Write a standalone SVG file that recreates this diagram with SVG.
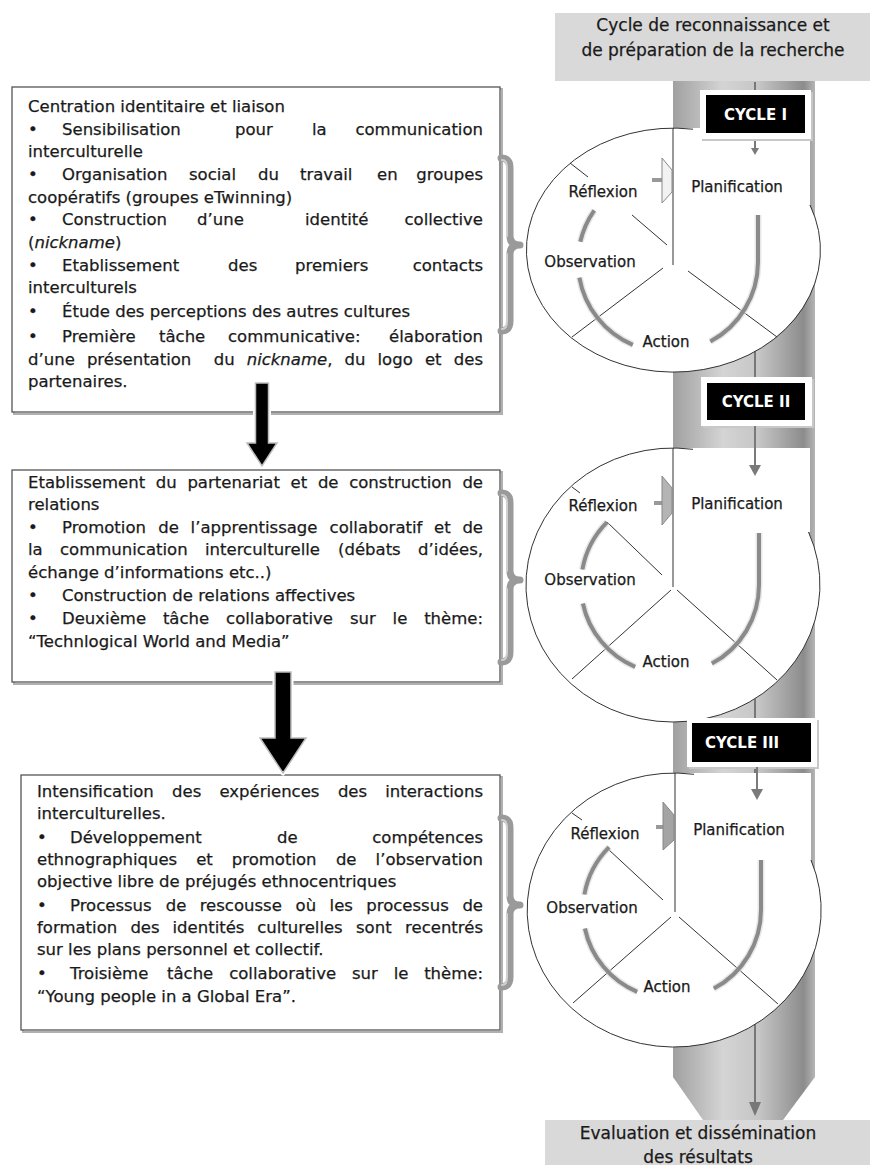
<svg xmlns="http://www.w3.org/2000/svg" width="870" height="1165" viewBox="0 0 870 1165">
<defs>
<linearGradient id="colg" x1="0" y1="0" x2="1" y2="0">
<stop offset="0" stop-color="#a0a0a0"/><stop offset="0.35" stop-color="#d4d4d4"/><stop offset="0.6" stop-color="#c6c6c6"/><stop offset="0.92" stop-color="#8c8c8c"/><stop offset="1" stop-color="#b5b5b5"/>
</linearGradient>
<style>
.t{font-family:"DejaVu Sans",sans-serif;font-size:16.5px;fill:#1a1a1a;stroke:#1a1a1a;stroke-width:0.25px}
.e{text-anchor:end}
.it{font-style:italic}
.lb{font-family:"DejaVu Sans",sans-serif;font-size:15px;fill:#1a1a1a;stroke:#1a1a1a;stroke-width:0.25px;text-anchor:middle}
.ttl{font-family:"DejaVu Sans",sans-serif;font-size:17px;fill:#1a1a1a;stroke:#1a1a1a;stroke-width:0.25px;text-anchor:middle}
.cy{font-family:"DejaVu Sans",sans-serif;font-size:15px;font-weight:bold;fill:#fff}
.box{fill:#fff;stroke:#555;stroke-width:1.3}
.shd{fill:none;stroke:#b0b0b0;stroke-width:2}
.ell{fill:none;stroke:#333;stroke-width:1}
.ln{stroke:#333;stroke-width:1;fill:none}
.arc{fill:none;stroke:#8a8a8a;stroke-width:4}
.arcs{fill:none;stroke:#d8d8d8;stroke-width:7}
.brace{fill:none;stroke:#9a9a9a;stroke-width:7;stroke-linecap:round;stroke-linejoin:round}
.bracei{fill:none;stroke:#d0d0d0;stroke-width:2;stroke-linecap:round;stroke-linejoin:round}
.garr{stroke:#7a7a7a;stroke-width:2;fill:none}
</style>
</defs>

<!-- column -->
<g id="column">
<polygon points="673,80 815,80 815,1077 783,1120 703,1120 673,1077" fill="url(#colg)"/>
<line x1="755" y1="82" x2="755" y2="1106" stroke="#777" stroke-width="2"/>
<polygon points="749,1102 761,1102 755,1116" fill="#777"/>
</g>

<g id="top-box">
<rect x="555" y="13" width="315" height="68" fill="#d9d9d9"/>
<text class="ttl" x="713" y="31">Cycle de reconnaissance et</text>
<text class="ttl" x="713" y="56">de préparation de la recherche</text>
</g>

<g id="bottom-box">
<rect x="545" y="1120" width="325" height="45" fill="#d9d9d9"/>
<text class="ttl" x="698" y="1139">Evaluation et dissémination</text>
<text class="ttl" x="698" y="1163">des résultats</text>
</g>

<!-- Cycle I -->
<g id="cycle1">
<rect x="673" y="128" width="137" height="77" fill="#fff"/>
<ellipse cx="673" cy="250" rx="147" ry="122" fill="#fff"/>
<path class="ell" d="M693 129.2 A147 122 0 1 0 810 205"/>
<line class="ln" x1="673" y1="128" x2="673" y2="265"/>
<line class="ln" x1="570" y1="163" x2="588" y2="177"/>
<line class="ln" x1="632" y1="215" x2="667" y2="245"/>
<line class="ln" x1="663" y1="268" x2="572" y2="337"/>
<line class="ln" x1="688" y1="271" x2="777" y2="337"/>
<path class="arcs" d="M758 215 L758 262 A90 90 0 0 1 710.3 341.5 M632.8 344.8 A90 90 0 0 1 579.4 277.6 M580.3 241.8 A90 90 0 0 1 594.3 210.4" opacity="0.6"/>
<path class="arc" d="M758 215 L758 262 A90 90 0 0 1 710.3 341.5 M632.8 344.8 A90 90 0 0 1 579.4 277.6 M580.3 241.8 A90 90 0 0 1 594.3 210.4"/>
<line x1="652" y1="180" x2="662" y2="180" stroke="#999" stroke-width="4"/>
<polygon points="662,158 672,170 672,192 662,203" fill="#f2f2f2" stroke="#888" stroke-width="1"/>
<text class="lb" x="603" y="197">Réflexion</text>
<text class="lb" x="737" y="192">Planification</text>
<text class="lb" x="590" y="267">Observation</text>
<text class="lb" x="666" y="347">Action</text>
</g>

<!-- Cycle II -->
<g id="cycle2">
<rect x="673" y="448" width="137" height="84" fill="#fff"/>
<ellipse cx="673" cy="585" rx="147" ry="137" fill="#fff"/>
<path class="ell" d="M693 449.3 A147 137 0 1 0 808.5 532"/>
<line class="ln" x1="673" y1="448" x2="673" y2="587"/>
<line class="ln" x1="572" y1="487" x2="580" y2="493"/>
<line class="ln" x1="607" y1="522" x2="662" y2="575"/>
<line class="ln" x1="671" y1="590" x2="572" y2="679"/>
<line class="ln" x1="677" y1="590" x2="777" y2="680"/>
<path class="arcs" d="M759 533 L759 585 A89 89 0 0 1 711.8 663.6 M635.2 666.9 A89 89 0 0 1 582.9 603.5 M582.4 569.5 A89 89 0 0 1 607.1 522.1" opacity="0.6"/>
<path class="arc" d="M759 533 L759 585 A89 89 0 0 1 711.8 663.6 M635.2 666.9 A89 89 0 0 1 582.9 603.5 M582.4 569.5 A89 89 0 0 1 607.1 522.1"/>
<line x1="654" y1="503" x2="662" y2="503" stroke="#999" stroke-width="4"/>
<polygon points="662,476 672,488 672,513 662,525" fill="#b4b4b4" stroke="#888" stroke-width="1"/>
<text class="lb" x="603" y="511">Réflexion</text>
<text class="lb" x="737" y="509">Planification</text>
<text class="lb" x="590" y="585">Observation</text>
<text class="lb" x="666" y="667">Action</text>
</g>

<!-- Cycle III -->
<g id="cycle3">
<rect x="674" y="773" width="137" height="87" fill="#fff"/>
<ellipse cx="674" cy="910" rx="147" ry="137" fill="#fff"/>
<path class="ell" d="M694 774.3 A147 137 0 1 0 811 860"/>
<line class="ln" x1="675" y1="773" x2="675" y2="912"/>
<line class="ln" x1="572" y1="813" x2="582" y2="820"/>
<line class="ln" x1="608" y1="849" x2="663" y2="900"/>
<line class="ln" x1="671" y1="917" x2="573" y2="1003"/>
<line class="ln" x1="679" y1="917" x2="778" y2="1004"/>
<path class="arcs" d="M761 860 L761 910 A89 89 0 0 1 713.8 988.6 M637.2 991.9 A89 89 0 0 1 584.9 928.5 M584.4 894.5 A89 89 0 0 1 609.1 847.1" opacity="0.6"/>
<path class="arc" d="M761 860 L761 910 A89 89 0 0 1 713.8 988.6 M637.2 991.9 A89 89 0 0 1 584.9 928.5 M584.4 894.5 A89 89 0 0 1 609.1 847.1"/>
<line x1="656" y1="827" x2="663" y2="827" stroke="#999" stroke-width="4"/>
<polygon points="663,802 674,815 674,840 663,850" fill="#a4a4a4" stroke="#888" stroke-width="1"/>
<text class="lb" x="605" y="839">Réflexion</text>
<text class="lb" x="739" y="835">Planification</text>
<text class="lb" x="592" y="913">Observation</text>
<text class="lb" x="667" y="992">Action</text>
</g>

<!-- cycle labels -->
<g id="label-cycle1">
<rect x="702" y="92" width="111" height="49" fill="#c8c8c8"/>
<rect x="700" y="90" width="111" height="49" fill="#fff"/>
<rect x="706" y="95" width="99" height="38" fill="#000"/>
<text class="cy" x="755.5" y="120" text-anchor="middle">CYCLE I</text>
</g>
<g id="label-cycle2">
<rect x="703" y="379" width="111" height="49" fill="#c8c8c8"/>
<rect x="701" y="377" width="111" height="49" fill="#fff"/>
<rect x="707" y="383" width="98" height="37" fill="#000"/>
<text class="cy" x="756" y="407" text-anchor="middle">CYCLE II</text>
</g>
<g id="label-cycle3">
<rect x="689" y="720" width="130" height="49" fill="#c8c8c8"/>
<rect x="687" y="718" width="130" height="49" fill="#fff"/>
<rect x="692" y="723" width="119" height="39" fill="#000"/>
<text class="cy" x="705" y="748">CYCLE III</text>
</g>

<!-- Box 1 -->
<g id="box1">
<rect class="shd" x="14" y="89" width="488" height="325"/>
<rect class="box" x="12" y="87" width="488" height="325"/>
<text class="t" x="28" y="112">Centration identitaire et liaison</text>
<text class="t" y="135"><tspan x="28">•</tspan><tspan x="62">Sensibilisation</tspan><tspan x="235">pour</tspan><tspan x="312">la</tspan></text>
<text class="t e" x="483" y="135">communication</text>
<text class="t" x="28" y="157">interculturelle</text>
<text class="t" y="180"><tspan x="28">•</tspan><tspan x="62">Organisation</tspan><tspan x="189">social</tspan><tspan x="258">du</tspan><tspan x="300">travail</tspan><tspan x="377">en</tspan></text>
<text class="t e" x="483" y="180">groupes</text>
<text class="t" x="28" y="203">coopératifs (groupes eTwinning)</text>
<text class="t" y="225"><tspan x="28">•</tspan><tspan x="62">Construction</tspan><tspan x="197">d’une</tspan><tspan x="305">identité</tspan></text>
<text class="t e" x="483" y="225">collective</text>
<text class="t" x="28" y="248">(<tspan class="it">nickname</tspan>)</text>
<text class="t" y="271"><tspan x="28">•</tspan><tspan x="62">Etablissement</tspan><tspan x="228">des</tspan><tspan x="295">premiers</tspan></text>
<text class="t e" x="483" y="271">contacts</text>
<text class="t" x="28" y="293">interculturels</text>
<text class="t" y="317"><tspan x="28">•</tspan><tspan x="62">Étude des perceptions des autres cultures</tspan></text>
<text class="t" y="342"><tspan x="28">•</tspan><tspan x="62">Première</tspan><tspan x="159">tâche</tspan><tspan x="228">communicative:</tspan></text>
<text class="t e" x="483" y="342">élaboration</text>
<text class="t" y="365"><tspan x="28">d’une</tspan><tspan x="86.9">présentation</tspan><tspan x="213.7">du</tspan><tspan x="246.7" class="it">nickname</tspan><tspan>,</tspan><tspan x="344.5">du</tspan><tspan x="377.5">logo</tspan><tspan x="424.9">et</tspan></text>
<text class="t e" x="483" y="365">des</text>
<text class="t" x="28" y="387">partenaires.</text>
</g>

<!-- Box 2 -->
<g id="box2">
<rect class="shd" x="14" y="472" width="488" height="212"/>
<rect class="box" x="12" y="470" width="488" height="212"/>
<text class="t" y="488"><tspan x="28">Etablissement</tspan><tspan x="155.8">du</tspan><tspan x="187.4">partenariat</tspan><tspan x="290.6">et</tspan><tspan x="317.9">de</tspan><tspan x="349.2">construction</tspan></text>
<text class="t e" x="483" y="488">de</text>
<text class="t" x="28" y="510">relations</text>
<text class="t" y="533"><tspan x="28">•</tspan><tspan x="62">Promotion</tspan><tspan x="158.3">de</tspan><tspan x="190.6">l’apprentissage</tspan><tspan x="329.6">collaboratif</tspan><tspan x="434.1">et</tspan></text>
<text class="t e" x="483" y="533">de</text>
<text class="t" y="555"><tspan x="28">la</tspan><tspan x="60">communication</tspan><tspan x="205">interculturelle</tspan><tspan x="338">(débats</tspan></text>
<text class="t e" x="483" y="555">d’idées,</text>
<text class="t" x="28" y="578">échange d’informations etc..)</text>
<text class="t" y="601"><tspan x="28">•</tspan><tspan x="62">Construction de relations affectives</tspan></text>
<text class="t" y="624"><tspan x="28">•</tspan><tspan x="62">Deuxième</tspan><tspan x="162.9">tâche</tspan><tspan x="226.1">collaborative</tspan><tspan x="349.9">sur</tspan><tspan x="392.6">le</tspan></text>
<text class="t e" x="483" y="624">thème:</text>
<text class="t" x="28" y="647">“Technlogical World and Media”</text>
</g>

<!-- Box 3 -->
<g id="box3">
<rect class="shd" x="23" y="777" width="479" height="255"/>
<rect class="box" x="21" y="775" width="479" height="255"/>
<text class="t" y="797"><tspan x="37">Intensification</tspan><tspan x="172">des</tspan><tspan x="219.4">expériences</tspan><tspan x="337.9">des</tspan></text>
<text class="t e" x="483" y="797">interactions</text>
<text class="t" x="37" y="819">interculturelles.</text>
<text class="t" y="843"><tspan x="37">•</tspan><tspan x="70">Développement</tspan><tspan x="277">de</tspan></text>
<text class="t e" x="483" y="843">compétences</text>
<text class="t" y="865"><tspan x="37">ethnographiques</tspan><tspan x="196.2">et</tspan><tspan x="231.8">promotion</tspan><tspan x="335.9">de</tspan></text>
<text class="t e" x="483" y="865">l’observation</text>
<text class="t" x="37" y="887">objective libre de préjugés ethnocentriques</text>
<text class="t" y="911"><tspan x="37">•</tspan><tspan x="70">Processus</tspan><tspan x="165.7">de</tspan><tspan x="199.7">rescousse</tspan><tspan x="295.6">où</tspan><tspan x="329.6">les</tspan><tspan x="366.3">processus</tspan></text>
<text class="t e" x="483" y="911">de</text>
<text class="t" y="933"><tspan x="37">formation</tspan><tspan x="130.4">des</tspan><tspan x="172.5">identités</tspan><tspan x="257.2">culturelles</tspan><tspan x="356">sont</tspan></text>
<text class="t e" x="483" y="933">recentrés</text>
<text class="t" x="37" y="955">sur les plans personnel et collectif.</text>
<text class="t" y="979"><tspan x="37">•</tspan><tspan x="70">Troisième</tspan><tspan x="167">tâche</tspan><tspan x="229.2">collaborative</tspan><tspan x="352">sur</tspan><tspan x="393.7">le</tspan></text>
<text class="t e" x="483" y="979">thème:</text>
<text class="t" x="37" y="1002">“Young people in a Global Era”.</text>
</g>

<!-- connectors -->
<g id="connectors">
<polygon points="255.5,383 268.5,383 268.5,443 277,443 262,466 247,443 255.5,443" fill="#000" stroke="#fff" stroke-width="5" stroke-linejoin="round"/>
<polygon points="255.5,383 268.5,383 268.5,443 277,443 262,466 247,443 255.5,443" fill="#000" stroke="#bdbdbd" stroke-width="1.5"/>
<polygon points="275,672 291,672 291,738 306,738 283,773 260,738 275,738" fill="#000" stroke="#fff" stroke-width="5" stroke-linejoin="round"/>
<polygon points="275,672 291,672 291,738 306,738 283,773 260,738 275,738" fill="#000" stroke="#bdbdbd" stroke-width="1.5"/>
<path class="brace" d="M501 158 Q510 158 510 168 L510 236 Q510 245 520 245 Q510 245 510 254 L510 321 Q510 331 501 331"/>
<path class="bracei" d="M502 160 Q507 160 507 168 L507 236 M507 254 L507 321 Q507 329 502 329"/>
<path class="brace" d="M501 493 Q510 493 510 503 L510 571 Q510 580 520 580 Q510 580 510 589 L510 652 Q510 662 501 662"/>
<path class="bracei" d="M502 495 Q507 495 507 503 L507 571 M507 589 L507 652 Q507 660 502 660"/>
<path class="brace" d="M501 818 Q510 818 510 828 L510 896 Q510 905 520 905 Q510 905 510 914 L510 977 Q510 987 501 987"/>
<path class="bracei" d="M502 820 Q507 820 507 828 L507 896 M507 914 L507 977 Q507 985 502 985"/>
<line class="garr" x1="755" y1="141" x2="755" y2="149"/>
<polygon points="751,148 759,148 755,155" fill="#7a7a7a"/>
<line class="garr" x1="755" y1="426" x2="755" y2="466"/>
<polygon points="749,465 761,465 755,476" fill="#7a7a7a"/>
<line class="garr" x1="757" y1="767" x2="757" y2="790"/>
<polygon points="751,789 763,789 757,800" fill="#7a7a7a"/>
</g>
</svg>
